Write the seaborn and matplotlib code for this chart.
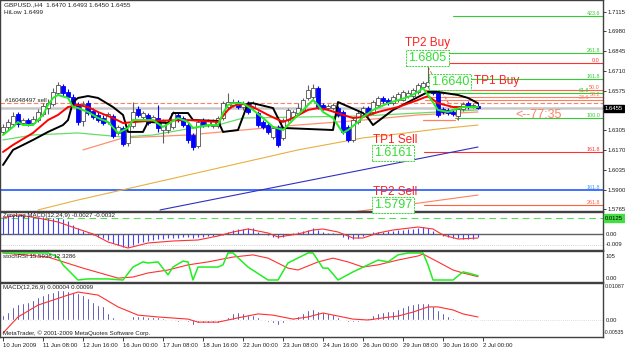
import numpy as np
import matplotlib
matplotlib.use("Agg")
import matplotlib.pyplot as plt
import seaborn as sns

sns.set_style("white")
plt.rcParams['font.family'] = ['Liberation Sans', 'DejaVu Sans']

W, H = 625, 349

# ---------------- data (GBPUSD H4) ----------------
open_ = [1.6294,1.6328,1.6348,1.6416,1.6355,1.6375,1.6355,1.6375,1.6416,1.6457,
         1.6485,1.6560,1.6608,1.6567,1.6532,1.6485,1.6369,1.6490,1.6437,1.6410,
         1.6389,1.6362,1.6403,1.6287,1.6321,1.6218,1.6334,1.6450,1.6396,1.6410,
         1.6375,1.6389,1.6307,1.6307,1.6328,1.6410,1.6389,1.6341,1.6273,1.6198,
         1.6375,1.6341,1.6334,1.6334,1.6389,1.6464,1.6478,1.6498,1.6464,1.6490,
         1.6457,1.6423,1.6362,1.6341,1.6259,1.6328,1.6252,1.6375,1.6396,1.6423,
         1.6444,1.6526,1.6532,1.6594,1.6478,1.6457,1.6457,1.6457,1.6430,1.6328,
         1.6239,1.6362,1.6410,1.6457,1.6430,1.6478,1.6526,1.6512,1.6490,1.6512,
         1.6512,1.6539,1.6539,1.6567,1.6601,1.6608,1.6635,1.6560,1.6450,1.6444,
         1.6430,1.6403,1.6450,1.6490,1.6464,1.6470]
close = [1.6328,1.6362,1.6403,1.6348,1.6375,1.6355,1.6382,1.6430,1.6471,1.6490,
         1.6567,1.6615,1.6560,1.6532,1.6485,1.6362,1.6485,1.6423,1.6396,1.6375,
         1.6355,1.6416,1.6266,1.6328,1.6211,1.6334,1.6430,1.6410,1.6423,1.6355,
         1.6396,1.6321,1.6369,1.6355,1.6423,1.6375,1.6341,1.6239,1.6191,1.6362,
         1.6341,1.6369,1.6369,1.6389,1.6490,1.6498,1.6498,1.6464,1.6490,1.6430,
         1.6490,1.6341,1.6328,1.6294,1.6321,1.6205,1.6375,1.6444,1.6430,1.6457,
         1.6512,1.6580,1.6594,1.6464,1.6457,1.6471,1.6478,1.6410,1.6294,1.6239,
         1.6375,1.6423,1.6457,1.6423,1.6498,1.6526,1.6505,1.6490,1.6532,1.6553,
         1.6567,1.6560,1.6580,1.6615,1.6628,1.6635,1.6560,1.6410,1.6430,1.6423,
         1.6416,1.6450,1.6485,1.6464,1.6478,1.6455]
high = [1.6348,1.6382,1.6430,1.6430,1.6389,1.6389,1.6403,1.6450,1.6490,1.6519,
        1.6594,1.6635,1.6621,1.6587,1.6553,1.6498,1.6505,1.6512,1.6457,1.6430,
        1.6410,1.6430,1.6416,1.6341,1.6334,1.6348,1.6498,1.6471,1.6437,1.6423,
        1.6410,1.6478,1.6382,1.6369,1.6437,1.6423,1.6403,1.6355,1.6287,1.6375,
        1.6389,1.6382,1.6382,1.6403,1.6505,1.6560,1.6519,1.6512,1.6505,1.6505,
        1.6505,1.6437,1.6375,1.6355,1.6334,1.6341,1.6389,1.6457,1.6444,1.6490,
        1.6526,1.6615,1.6621,1.6608,1.6490,1.6485,1.6490,1.6471,1.6444,1.6341,
        1.6389,1.6437,1.6471,1.6471,1.6512,1.6539,1.6539,1.6526,1.6546,1.6567,
        1.6580,1.6580,1.6594,1.6628,1.6642,1.6737,1.6649,1.6573,1.6464,1.6457,
        1.6444,1.6464,1.6498,1.6505,1.6490,1.6493]
low = [1.6280,1.6307,1.6334,1.6328,1.6341,1.6334,1.6341,1.6362,1.6403,1.6416,
       1.6471,1.6546,1.6539,1.6519,1.6471,1.6341,1.6334,1.6410,1.6382,1.6362,
       1.6341,1.6348,1.6252,1.6273,1.6198,1.6198,1.6321,1.6396,1.6382,1.6341,
       1.6362,1.6294,1.6218,1.6287,1.6314,1.6362,1.6328,1.6218,1.6171,1.6184,
       1.6328,1.6328,1.6321,1.6321,1.6375,1.6450,1.6464,1.6450,1.6444,1.6416,
       1.6444,1.6328,1.6314,1.6280,1.6246,1.6191,1.6239,1.6362,1.6382,1.6410,
       1.6430,1.6512,1.6519,1.6450,1.6444,1.6444,1.6444,1.6396,1.6280,1.6225,
       1.6225,1.6348,1.6396,1.6403,1.6416,1.6464,1.6490,1.6478,1.6478,1.6498,
       1.6505,1.6526,1.6526,1.6553,1.6587,1.6594,1.6546,1.6396,1.6416,1.6410,
       1.6403,1.6375,1.6437,1.6450,1.6457,1.6450]

# main-chart indicator lines (bar index, price)
green_i = [0,2,3,4,6,8,9,10,11,13,14,15,17,19,21,23,25,26,30,32,35,37,38,41,43,44,45,46,48,50,
           52,54,56,57,59,61,62,63,64,66,68,69,71,72,74,77,81,83,84,85,87,89,90,92,95]
green_p = [1.6273,1.6328,1.6362,1.6341,1.6341,1.6410,1.6478,1.6526,1.6546,1.6526,1.6464,1.6457,
           1.6430,1.6389,1.6362,1.6287,1.6321,1.6375,1.6375,1.6328,1.6389,1.6362,1.6321,1.6341,
           1.6341,1.6423,1.6478,1.6490,1.6490,1.6444,1.6389,1.6328,1.6307,1.6341,1.6410,1.6478,
           1.6512,1.6478,1.6430,1.6389,1.6287,1.6307,1.6362,1.6396,1.6444,1.6490,1.6532,1.6567,
           1.6594,1.6546,1.6444,1.6430,1.6444,1.6464,1.6464]
red_i = [0,2,6,9,11,13,15,17,19,22,24,29,37,43,45,46,48,50,53,56,58,61,63,65,68,70,72,75,79,83,
         85,87,90,95]
red_p = [1.6157,1.6205,1.6287,1.6375,1.6410,1.6464,1.6478,1.6464,1.6430,1.6389,1.6355,1.6369,
         1.6375,1.6362,1.6444,1.6471,1.6485,1.6464,1.6410,1.6362,1.6389,1.6444,1.6457,1.6444,
         1.6410,1.6389,1.6396,1.6430,1.6464,1.6512,1.6539,1.6490,1.6464,1.6464]
black_i = [0,2,6,9,12,13,14,15,17,19,22,24,25,28,29,33,34,37,38,43,44,47,49,50,54,56,66,67,
           72,73,74,78,83,85,87,91,93,95]
black_p = [1.6068,1.6171,1.6239,1.6294,1.6341,1.6375,1.6498,1.6526,1.6539,1.6526,1.6464,1.6410,
           1.6294,1.6294,1.6362,1.6355,1.6423,1.6423,1.6375,1.6369,1.6294,1.6307,1.6490,1.6490,
           1.6457,1.6321,1.6307,1.6498,1.6423,1.6389,1.6341,1.6444,1.6532,1.6567,1.6567,1.6546,
           1.6526,1.6490]
slowgreen_i = [0,6,15,24,30,38,43,48,60,72,83,95]
slowgreen_p = [1.6239,1.6273,1.6287,1.6259,1.6273,1.6321,1.6341,1.6389,1.6396,1.6403,1.6423,1.6444]
salmon_i = [16,24,37,48,59,72,83,95]
salmon_p = [1.6171,1.6253,1.6273,1.6307,1.6341,1.6375,1.6410,1.6430]
gold_i = [7,15,59,72,79,87,95]
gold_p = [1.5761,1.5829,1.6171,1.6253,1.6280,1.6314,1.6341]
trend_blue_i = [31.4,95]
trend_blue_p = [1.5761,1.6191]
trend_salmon_i = [70,95]
trend_salmon_p = [1.5747,1.5863]
fib_anchor_i = [85,91]
fib_anchor_p = [1.6737,1.6375]

# horizontal levels
order_price = 1.6490
bid_price = 1.6455
low_seg_price = 1.6375
fib_prices = [1.7086,1.6833,1.6765,1.6655,1.6580,1.6560,1.6532,1.6512,1.6389,1.6157,1.5897,1.5795]
fib_labels = ["423.6","261.8","0.0","161.8","50.0","61.8","38.2","23.6","100.0","161.8","161.8","261.8"]
tp_labels = ["TP2 Buy","TP1 Buy","TP1 Sell","TP2 Sell"]
tp_values = ["1.6805","1.6640","1.6161","1.5797"]
price_ticks = [1.7115,1.6980,1.6845,1.6710,1.6575,1.6305,1.6170,1.6035,1.5900,1.5765]

# ZeroLag MACD
zl_hist = [0.0136,0.0144,0.0152,0.0152,0.0152,0.0144,0.0136,0.0136,0.0136,0.0128,
           0.0128,0.0128,0.0120,0.0104,0.0072,0.0048,0.0024,0.0008,-0.0008,-0.0024,
           -0.0032,-0.0048,-0.0072,-0.0088,-0.0104,-0.0104,-0.0088,-0.0072,-0.0064,-0.0056,
           -0.0048,-0.0040,-0.0040,-0.0032,-0.0032,-0.0032,-0.0024,-0.0024,-0.0032,-0.0024,
           -0.0024,-0.0016,-0.0016,-0.0008,-0.0008,0.0016,0.0032,0.0040,0.0040,0.0048,
           0.0048,0.0016,0.0000,-0.0008,-0.0024,-0.0032,-0.0024,0.0000,0.0008,0.0016,
           0.0024,0.0032,0.0048,0.0032,0.0016,0.0008,0.0008,0.0000,-0.0024,-0.0040,
           -0.0040,-0.0032,-0.0016,0.0000,0.0016,0.0016,0.0016,0.0024,0.0024,0.0032,
           0.0032,0.0040,0.0040,0.0048,0.0056,0.0048,0.0024,0.0000,-0.0016,-0.0024,
           -0.0032,-0.0032,-0.0040,-0.0040,-0.0040,-0.0027]
zl_sig_i = [0,3,7,11,15,18,21,25,29,34,39,43,46,49,53,55,59,62,64,67,70,72,75,78,83,86,88,91,95]
zl_sig_v = [0.0128,0.0152,0.0128,0.0096,0.0040,0.0000,-0.0064,-0.0112,-0.0072,-0.0056,-0.0048,
            -0.0016,0.0016,0.0040,0.0008,-0.0024,0.0000,0.0032,0.0040,0.0016,-0.0032,-0.0032,
            0.0008,0.0032,0.0056,0.0040,-0.0008,-0.0040,-0.0032]

# stochRSI
st_green_i = [0,2,9,11,12,15,17,21,24,26,28,29,31,33,34,36,37,38,39,43,44,45,46,49,53,55,57,
              61,62,64,65,67,70,73,75,77,79,81,84,85,86,90,92,93,95]
st_green_v = [100,100,100,85,56,0,4,4,0,48,67,63,67,19,48,70,67,0,48,48,56,100,100,48,0,0,63,
              100,100,44,44,0,30,56,74,67,93,100,100,56,0,0,30,26,15.6]
st_red_i = [0,9,16,23,26,29,33,37,41,46,50,53,57,59,63,66,69,72,75,79,83,84,87,90,92,95]
st_red_v = [100,85,44,7,11,26,37,56,67,85,93,81,44,37,67,81,67,48,56,74,89,96,67,37,26,12.3]

# MACD
macd_hist = [0.0016,0.0026,0.0043,0.0053,0.0056,0.0059,0.0066,0.0076,0.0082,0.0089,
             0.0092,0.0099,0.0099,0.0095,0.0092,0.0089,0.0082,0.0072,0.0059,0.0049,
             0.0046,0.0023,0.0010,0.0003,-0.0003,-0.0003,0.0013,0.0013,0.0013,0.0010,
             0.0010,0.0010,0.0007,-0.0003,-0.0003,-0.0007,-0.0003,-0.0007,-0.0016,-0.0010,
             -0.0010,-0.0010,-0.0010,-0.0010,-0.0003,0.0010,0.0023,0.0026,0.0023,0.0016,
             0.0016,0.0010,0.0000,-0.0007,-0.0010,-0.0016,-0.0010,0.0000,0.0007,0.0013,
             0.0023,0.0033,0.0036,0.0030,0.0026,0.0023,0.0020,0.0010,-0.0003,-0.0007,
             -0.0007,-0.0007,0.0000,0.0007,0.0016,0.0023,0.0026,0.0030,0.0030,0.0036,
             0.0043,0.0049,0.0053,0.0056,0.0056,0.0056,0.0046,0.0033,0.0023,0.0013,
             0.0007,0.0003,0.0003,0.0003,0.0003,0.00004]
macd_sig_i = [0,3,7,13,15,19,23,27,31,37,39,43,47,51,54,58,61,64,67,70,73,76,79,82,85,87,90,92,95]
macd_sig_v = [-0.0043,0.0010,0.0049,0.0082,0.0092,0.0082,0.0043,0.0016,0.0010,0.0003,-0.0007,
              -0.0007,0.0007,0.0020,0.0016,0.0003,0.0010,0.0023,0.0013,0.0003,0.0000,0.0007,
              0.0013,0.0026,0.0043,0.0043,0.0033,0.0020,0.00099]

xtick_idx = [0,8,16,24,32,40,48,56,64,72,80,88,96]
xtick_labels = ["10 Jun 2009","11 Jun 08:00","12 Jun 16:00","16 Jun 00:00","17 Jun 08:00",
                "18 Jun 16:00","22 Jun 00:00","23 Jun 08:00","24 Jun 16:00","26 Jun 00:00",
                "29 Jun 08:00","30 Jun 16:00","2 Jul 00:00"]

# ---------------- layout helpers ----------------
fig = plt.figure(figsize=(W / 100, H / 100), dpi=100)
fig.patch.set_facecolor("white")

def pax(x0, y0, x1, y1):
    return fig.add_axes([x0 / W, 1 - y1 / H, (x1 - x0) / W, (y1 - y0) / H])

def ftext(x, y, s, **kw):
    kw.setdefault("va", "center")
    return fig.text(x / W, 1 - y / H, s, **kw)

XL = (-0.6, 120.0)
P_TOP, P_PX = 1.7195, 0.000683

def ix(x):  # pixel column -> bar index (annotation positions only)
    return (x - 3) / 5.0

def style(ax):
    ax.set_xlim(*XL)
    ax.set_facecolor("white")
    for s in ax.spines.values():
        s.set_color("#404040")
        s.set_linewidth(1.0)
    ax.set_xticks([])
    ax.set_yticks([])

# ---------------- main chart ----------------
ax = pax(0, 0, 603, 211)
style(ax)
ax.set_ylim(P_TOP - 211 * P_PX, P_TOP)

o = np.array(open_); c = np.array(close); h = np.array(high); l = np.array(low)
x = np.arange(len(c))
bull = c >= o

ax.axhline(bid_price, color="#c8c8c8", lw=1.8, zorder=1)
ax.axhline(order_price, color="#ff8060", lw=0.8, ls=(0, (4, 2)), zorder=1)
ax.plot([ix(423), ix(455)], [low_seg_price, low_seg_price], color="#ff8060", lw=0.9, zorder=2)

fib_colors = ["#33cc33", "#33cc33", "#ff3030", "#33cc33", "#ff6040", "#33cc33", "#ff8060",
              "#ff8060", "#33cc33", "#ff3030", "#3399ff", "#ff6040"]
fib_start = [453, 448, 448, 467, 425, 425, 425, 425, 455, 424, 0, 424]
fib_label_x = [600, 600, 600, 600, 600, 589, 600, 589, 600, 600, 600, 600]
for p, lab, col, xs, lx in zip(fib_prices, fib_labels, fib_colors, fib_start, fib_label_x):
    lw = 1.3 if xs == 0 else 0.8
    col_line = "#3366ff" if xs == 0 else col
    ax.plot([ix(xs), XL[1]], [p, p], color=col_line, lw=lw, zorder=2)
    ax.text(ix(lx), p + 2.3 * P_PX, lab, fontsize=3.9, color=col, ha="right", va="center",
            zorder=6)

sns.lineplot(x=gold_i, y=gold_p, ax=ax, color="#e8b040", lw=0.8, estimator=None, sort=False)
sns.lineplot(x=trend_blue_i, y=trend_blue_p, ax=ax, color="#3030c0", lw=0.8, estimator=None, sort=False)
sns.lineplot(x=trend_salmon_i, y=trend_salmon_p, ax=ax, color="#ff8060", lw=0.8, estimator=None, sort=False)
sns.lineplot(x=salmon_i, y=salmon_p, ax=ax, color="#ff9070", lw=0.9, estimator=None, sort=False)
sns.lineplot(x=slowgreen_i, y=slowgreen_p, ax=ax, color="#66dd66", lw=0.9, estimator=None, sort=False)
ax.plot(fib_anchor_i, fib_anchor_p, color="#ff6040", lw=0.7, ls=(0, (3, 2)), zorder=2)

# candles
ax.vlines(x[bull], l[bull], h[bull], color="#606060", lw=0.8, zorder=3)
ax.vlines(x[~bull], l[~bull], h[~bull], color="#0000ff", lw=0.8, zorder=3)
body = np.maximum(np.abs(c - o), 0.00012)
ax.bar(x[bull], body[bull], bottom=np.minimum(o, c)[bull], width=0.62, color="white",
       edgecolor="#505050", lw=0.6, zorder=4)
ax.bar(x[~bull], body[~bull], bottom=np.minimum(o, c)[~bull], width=0.62, color="#0000ff",
       edgecolor="#0000ff", lw=0.6, zorder=4)

for xi, yi, col in [(black_i, black_p, "black"), (red_i, red_p, "#ff0000"), (green_i, green_p, "#22ee22")]:
    sns.lineplot(x=xi, y=yi, ax=ax, color=col, lw=1.4, estimator=None, sort=False, zorder=5)

ax.set_ylabel(""); ax.set_xlabel("")
ax.yaxis.tick_right()
ax.set_yticks(price_ticks)
ax.set_yticklabels([f"{p:.4f}" for p in price_ticks], fontsize=4.3)
ax.tick_params(axis="y", length=2, width=0.6, pad=1.5, colors="#202020")
ax.set_xticks([])

ftext(605, 108.3, "1.6455", fontsize=4.3, color="white", ha="left",
      bbox=dict(boxstyle="square,pad=0.2", fc="black", ec="black"))

ftext(4, 5, "GBPUSD.,H4  1.6470 1.6493 1.6450 1.6455", fontsize=4.6, color="#202020", ha="left")
ftext(4, 13, "HiLow 1.6499", fontsize=4.6, color="#202020", ha="left")
ftext(5, 100, "#16048497 sell", fontsize=4.4, color="#202020", ha="left")

box = dict(boxstyle="square,pad=0.18", fc="white", ec="#33dd33", ls=(0, (2, 1)), lw=0.7)
ftext(405, 43, tp_labels[0], fontsize=8.5, color="#ff2020", ha="left")
ftext(427.5, 58, tp_values[0], fontsize=9, color="#33dd33", ha="center", bbox=box)
ftext(450, 82, tp_values[1], fontsize=9, color="#33dd33", ha="center", bbox=box)
ftext(474, 81, tp_labels[1], fontsize=8.5, color="#ff2020", ha="left")
ftext(373, 140, tp_labels[2], fontsize=8.5, color="#ff2020", ha="left")
ftext(393, 153, tp_values[2], fontsize=9, color="#33dd33", ha="center", bbox=box)
ftext(373, 192, tp_labels[3], fontsize=8.5, color="#ff2020", ha="left")
ftext(393, 205, tp_values[3], fontsize=9, color="#33dd33", ha="center", bbox=box)
ftext(515, 115, "<--77:35", fontsize=9, color="#ff8060", ha="left")

# ---------------- ZeroLag MACD ----------------
az = pax(0, 212, 603, 250)
style(az)
az.set_ylim(-0.0128, 0.0176)
az.axhline(0, color="#606060", lw=1.0, zorder=1)
az.axhline(0.0125, color="#55dd55", lw=0.8, ls=(0, (6, 4)), zorder=1)
az.axhline(-0.009, color="#b0b0b0", lw=0.5, ls=(0, (1, 2)), zorder=1)
az.vlines(x, 0, zl_hist, color="#4040ff", lw=0.8, zorder=2)
sns.lineplot(x=zl_sig_i, y=zl_sig_v, ax=az, color="#ff3030", lw=0.8, estimator=None, sort=False)
az.set_xlabel(""); az.set_ylabel("")
az.set_xticks([]); az.set_yticks([])
ftext(3, 216, "ZeroLag MACD(12,24,9) -0.0027 -0.0032", fontsize=4.4, color="#202020", ha="left")
ftext(605, 218, "0.0125", fontsize=4.2, color="black", ha="left",
      bbox=dict(boxstyle="square,pad=0.2", fc="#44dd44", ec="#44dd44"))
ftext(606, 234, "0.00", fontsize=4.2, color="#202020", ha="left")
ftext(606, 244, "-0.009", fontsize=4.2, color="#202020", ha="left")

# ---------------- stochRSI ----------------
ast = pax(0, 251, 603, 282)
style(ast)
ast.set_ylim(-7.4, 107.4)
sns.lineplot(x=st_red_i, y=st_red_v, ax=ast, color="#ff3030", lw=0.8, estimator=None, sort=False)
sns.lineplot(x=st_green_i, y=st_green_v, ax=ast, color="#22ee22", lw=1.1, estimator=None, sort=False)
ast.set_xlabel(""); ast.set_ylabel("")
ast.set_xticks([]); ast.set_yticks([])
ftext(3, 256, "stochRSI 15.5936 12.3286", fontsize=4.4, color="#202020", ha="left")
ftext(606, 256, "105", fontsize=4.2, color="#202020", ha="left")
ftext(606, 279, "0.00", fontsize=4.2, color="#202020", ha="left")

# ---------------- MACD ----------------
am = pax(0, 283, 603, 337)
style(am)
am.set_ylim(-0.00559, 0.01217)
am.axhline(0, color="#c0c0c0", lw=0.5, ls=(0, (1, 2)), zorder=1)
am.bar(x, macd_hist, width=0.5, color="#000090", zorder=2)
sns.lineplot(x=macd_sig_i, y=macd_sig_v, ax=am, color="#ff3030", lw=0.8, estimator=None, sort=False)
am.set_ylabel(""); am.set_xlabel("")
am.set_yticks([])
am.set_xticks(xtick_idx)
am.set_xticklabels(xtick_labels, fontsize=4.3, ha="left")
am.tick_params(axis="x", length=3, width=0.6, pad=1.5, colors="#202020", bottom=True)
ftext(3, 288, "MACD(12,26,9) 0.00004 0.00099", fontsize=4.4, color="#202020", ha="left")
ftext(3, 333, "MetaTrader, \u00a9 2001-2009 MetaQuotes Software Corp.", fontsize=4.4,
      color="#202020", ha="left")
ftext(605, 287, "0.01087", fontsize=3.9, color="#202020", ha="left")
ftext(606, 320, "0.00", fontsize=4.2, color="#202020", ha="left")
ftext(604, 333, "-0.00535", fontsize=3.7, color="#202020", ha="left")

fig.savefig("out.png", dpi=100, facecolor="white")
